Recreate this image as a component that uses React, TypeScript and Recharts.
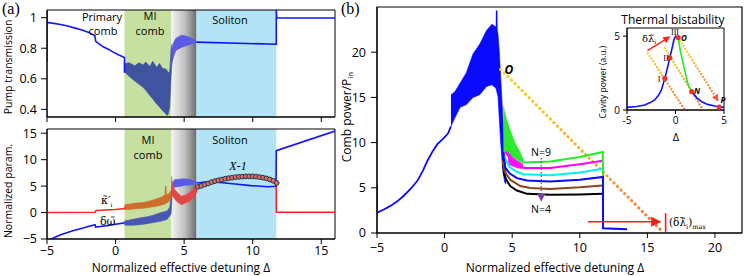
import React from "react";
import {
  ComposedChart,
  Line,
  Area,
  Scatter,
  XAxis,
  YAxis,
  ReferenceArea,
} from "recharts";

const sans = "'Open Sans', 'DejaVu Sans', sans-serif";
const serif = "'Liberation Serif', 'DejaVu Serif', serif";
const mathSerif = "'DejaVu Serif', serif";

// ---- ticks ----
const xTicksA = [-5, 0, 5, 10, 15];
const pumpTicks = [0.4, 0.6, 0.8, 1];
const paramTicks = [-5, 0, 5, 10, 15];
const xTicksB = [-5, 0, 5, 10, 15, 20];
const combTicks = [0, 5, 10, 15, 20];
const insetXTicks = [-5, 0, 5];
const insetYTicks = [0, 5];

// ---- shaded regions (detuning) ----
const miComb = [0.65, 4.07];
const transition = [4.07, 5.9];
const soliton = [5.9, 11.72];

// ---- (a) pump transmission ----
const pumpBefore = [[-5, 0.71], [-5, 1.05], [-5, 0.969], [-4, 0.955], [-3.5, 0.945], [-3, 0.933], [-2.4, 0.917], [-2, 0.905], [-1.5, 0.881], [-1.45, 0.845], [-1.2, 0.828], [-0.9, 0.809], [-0.5, 0.792], [-0.2, 0.776], [0.2, 0.757], [0.65, 0.739], [0.65, 0.64]];
const pumpMI = [[0.65, 0.645, 0.70], [1.0, 0.615, 0.705], [1.4, 0.585, 0.685], [1.7, 0.565, 0.705], [2.0, 0.545, 0.69], [2.2, 0.525, 0.71], [2.5, 0.49, 0.68], [2.7, 0.47, 0.715], [3.0, 0.435, 0.675], [3.2, 0.415, 0.70], [3.45, 0.39, 0.665], [3.65, 0.372, 0.665], [3.75, 0.36, 0.655], [3.85, 0.37, 0.64], [3.95, 0.42, 0.65], [4.0, 0.51, 0.72], [4.05, 0.62, 0.80], [4.12, 0.72, 0.83]];
const pumpTransition = [[4.1, 0.70, 0.80], [4.25, 0.75, 0.84], [4.4, 0.785, 0.865], [4.8, 0.805, 0.885], [5.2, 0.818, 0.878], [5.55, 0.828, 0.865], [5.85, 0.835, 0.848], [5.95, 0.84, 0.842]];
const pumpSoliton = [[5.9, 0.84], [11.72, 0.826], [11.72, 1.05], [11.75, 0.998], [16, 0.998]];

// ---- (a) normalized parameters ----
const kappaBefore = [[-5, 0], [-1.5, 0.05], [-1.42, 0.4], [0, 0.58], [0.65, 0.75], [0.65, 1.0]];
const kappaMI = [[0.65, 0.6, 1.5], [1.0, 0.6, 1.6], [1.5, 0.7, 1.8], [2.0, 0.8, 1.9], [2.5, 1.0, 2.2], [3.0, 1.2, 2.6], [3.3, 1.4, 2.9], [3.6, 1.6, 3.3], [3.9, 2.1, 3.6], [4.05, 2.8, 4.2]];
const kappaSpike = [[3.6, 2.6], [3.65, 5.0], [3.7, 2.8]];
const kappaTransition = [[4.07, 3.0, 6.85], [4.15, 3.2, 5.4], [4.3, 2.6, 4.4], [4.5, 2.0, 3.8], [4.8, 1.5, 3.1], [5.1, 1.8, 3.3], [5.4, 2.1, 3.8], [5.7, 2.9, 4.5], [5.95, 3.9, 5.0]];
const kappaAfter = [[11.72, 5.6], [11.72, 0.05], [16, 0.05]];
const detuneBefore = [[-5, -5.45], [-4.5, -4.75], [-4, -4.2], [-3.5, -3.75], [-3, -3.35], [-2.5, -3.0], [-2, -2.62], [-1.5, -2.28], [-1.45, -2.75], [-1, -2.6], [-0.5, -2.42], [0, -2.2], [0.65, -1.95]];
const detuneMI = [[0.65, -2.4, -1.6], [1.2, -2.4, -1.3], [1.8, -2.3, -1.0], [2.3, -2.1, -0.8], [2.75, -1.9, -0.5], [3.2, -1.7, -0.1], [3.75, -1.3, 0.3], [3.95, -0.6, 1.0], [4.05, -0.2, 3.5], [4.12, 3.0, 5.5]];
const detuneTransition = [[4.1, 4.5, 5.5], [4.3, 4.8, 6.2], [4.6, 4.9, 6.3], [5.0, 5.1, 6.4], [5.4, 5.2, 6.3], [5.7, 5.4, 6.0], [5.95, 5.5, 5.8]];
const detuneSoliton = [[5.95, 5.6], [6.5, 5.75], [7.2, 5.8], [8, 5.6], [8.7, 5.4], [9.9, 5.1], [11.1, 4.87], [11.7, 4.96], [11.72, 11.7], [16, 15.4]];
const x1Delta = [6.0, 6.25, 6.5, 6.75, 7.0, 7.25, 7.5, 7.75, 8.0, 8.25, 8.5, 8.75, 9.0, 9.25, 9.5, 9.75, 10.0, 10.25, 10.5, 10.75, 11.0, 11.25, 11.5, 11.75];
const x1Value = [4.85, 5.05, 5.3, 5.5, 5.75, 5.95, 6.1, 6.25, 6.4, 6.5, 6.6, 6.7, 6.75, 6.8, 6.85, 6.85, 6.85, 6.8, 6.7, 6.6, 6.45, 6.25, 6.0, 5.6];

// ---- (b) comb power ----
const combRise = [[-5, 5.3], [-5, 2.25], [-4.5, 2.6], [-4, 3.0], [-3.5, 3.5], [-3, 4.15], [-2.5, 4.9], [-2, 5.8], [-1.6, 6.9], [-1.3, 7.9], [-0.9, 9.0], [-0.55, 9.8], [-0.1, 10.45], [0.25, 11.0], [0.47, 11.8]];
const combChaos = [[0.47, 11.8, 15.3], [0.75, 12.7, 15.6], [1.15, 13.9, 16.6], [1.6, 14.2, 17.7], [2.1, 15.0, 19.8], [2.6, 15.3, 20.9], [3.1, 16.2, 22.4], [3.5, 16.4, 23.1], [3.8, 16.0, 22.8], [3.95, 15.1, 22.0], [4.05, 12.5, 20.0], [4.15, 10, 17.2], [4.25, 8, 14.5], [4.35, 6.5, 11.5], [4.45, 5.6, 8.5], [4.55, 5.4, 6.5]];
const combSpike = [[3.82, 20], [3.85, 24.6], [3.88, 20]];
const greenNoise = [[4.35, 9, 14], [4.6, 8.8, 12.5], [4.9, 8.5, 11.2], [5.2, 8.3, 10.0], [5.5, 8.0, 9.2], [5.84, 7.8, 8.1]];
const magentaNoise = [[4.7, 7.6, 9.0], [5.0, 7.4, 8.4], [5.4, 7.2, 8.0], [5.8, 7.1, 7.6]];
const soliton4 = [[4.3, 7.5], [4.4, 6.5], [4.6, 5.8], [4.85, 5.2], [5.35, 4.7], [6.1, 4.33], [7.8, 4.22], [10, 4.26], [11.7, 4.33]];
const soliton5 = [[4.3, 8], [4.4, 6.9], [4.85, 5.9], [5.6, 5.2], [6.35, 4.97], [7.8, 4.88], [10, 5.05], [11.7, 5.26]];
const soliton6 = [[4.3, 9], [4.5, 7.2], [4.8, 6.6], [5.35, 6.07], [6.1, 5.8], [7.8, 5.7], [10, 5.9], [11.72, 6.2], [11.72, 0.52], [13.5, 0.42]];
const soliton7 = [[4.4, 8.5], [4.8, 7.3], [5.3, 6.8], [5.84, 6.5], [7.8, 6.4], [10, 6.7], [11.7, 7.1]];
const soliton8 = [[4.5, 9], [5.0, 7.8], [5.5, 7.4], [5.9, 7.2], [7.8, 7.2], [10, 7.6], [11.7, 8.0]];
const soliton9 = [[4.5, 10], [5.2, 8.6], [5.84, 7.8], [7.8, 7.9], [10, 8.4], [11.7, 8.97], [11.72, 6.2]];
const thermalSweep = [[4.16, 18.1], [16.0, 0.33]];
const shiftMax = [[10.6, 1.25], [15.95, 1.25]];
const shiftBar = [[16.35, 0], [16.35, 2.2]];
const solitonStep = [[7.15, 8.3], [7.15, 3.9]];

// ---- (b) inset: thermal bistability ----
const bistLeft = [[-5, 0.18], [-4, 0.24], [-3.19, 0.34], [-2.6, 0.5], [-2.15, 0.68], [-1.75, 1.0], [-1.45, 1.35], [-1.1, 2.14], [-0.85, 2.8], [-0.59, 3.53], [-0.35, 4.2], [-0.17, 4.73], [0, 5.0], [0.28, 4.9]];
const bistJump = [[0.28, 4.9], [0.5, 4.0], [0.73, 3.3], [1.0, 2.55], [1.25, 1.85], [1.45, 1.5], [1.67, 1.24]];
const bistRight = [[1.67, 1.24], [2.2, 0.82], [2.7, 0.56], [3.3, 0.38], [4.05, 0.27], [5, 0.18]];
const bistPoints = [[-1.1, 2.14], [-0.59, 3.53], [0.28, 4.9], [1.67, 1.24], [4.5, 0.2]];
const sweepI = [[-2.85, 3.85], [0.96, 0]];
const sweepII = [[-1.1, 4.2], [2.85, 0]];
const sweepO = [[0.45, 4.7], [4.4, 0.62]];
const shiftArrow = [[-2.9, 4.02], [-0.6, 4.95]];

const pts = (a: number[][]) => a.map(([x, y]) => ({ x, y }));
const band = (a: number[][]) => a.map(([x, lo, hi]) => ({ x, r: [lo, hi] }));

const tickStyle = { fill: "#000", fontSize: 12.5, fontFamily: sans };
const minus = (v: number) => (v < 0 ? `\u2212${Math.abs(v)}` : `${v}`);

const line = (data: number[][], color: string, width = 1.6, extra: any = {}) => (
  <Line
    data={pts(data)}
    dataKey="y"
    type="linear"
    stroke={color}
    strokeWidth={width}
    dot={false}
    activeDot={false}
    isAnimationActive={false}
    {...extra}
  />
);

const area = (data: number[][], color: string) => (
  <Area
    data={band(data)}
    dataKey="r"
    type="linear"
    stroke={color}
    strokeWidth={0.6}
    fill={color}
    fillOpacity={1}
    dot={false}
    activeDot={false}
    isAnimationActive={false}
  />
);

const Backgrounds = ({ grad }: { grad: string }) => (
  <>
    <ReferenceArea x1={miComb[0]} x2={miComb[1]} fill="#c6e0a1" fillOpacity={1} stroke="none" />
    <ReferenceArea x1={transition[0]} x2={transition[1]} fill={`url(#${grad})`} fillOpacity={1} stroke="none" />
    <ReferenceArea x1={soliton[0]} x2={soliton[1]} fill="#b2e4f6" fillOpacity={1} stroke="none" />
  </>
);

const GrayGrad = ({ id }: { id: string }) => (
  <linearGradient id={id} x1="0" y1="0" x2="1" y2="0">
    <stop offset="0" stopColor="#f4f4f4" />
    <stop offset="0.55" stopColor="#bdbdbd" />
    <stop offset="1" stopColor="#6c6c6c" />
  </linearGradient>
);

const PumpChart = () => (
  <ComposedChart width={340} height={124} margin={{ top: 10, right: 5, bottom: 0, left: 0 }}>
    <defs>
      <GrayGrad id="grayA1" />
    </defs>
    <XAxis dataKey="x" type="number" domain={[-5, 16]} ticks={xTicksA} tickFormatter={() => ""} height={7} tickSize={5} stroke="#000" allowDataOverflow interval={0} />
    <YAxis type="number" domain={[0.35, 1.05]} ticks={pumpTicks} width={47} tickSize={6} tickMargin={4} stroke="#000" tick={tickStyle} allowDataOverflow interval={0} tickFormatter={(v: number) => (v === 1 ? "1" : v.toFixed(1))} />
    {Backgrounds({ grad: "grayA1" })}
    {area(pumpMI, "#3f539f")}
    {area(pumpTransition, "#5a5ae4")}
    {line(pumpBefore, "#1414ff")}
    {line(pumpSoliton, "#1414ff")}
    <ReferenceArea x1={-5} x2={16} y1={0.35} y2={1.05} fill="none" stroke="#000" strokeWidth={1} />
  </ComposedChart>
);

const ParamChart = () => (
  <ComposedChart width={340} height={152} margin={{ top: 5, right: 5, bottom: 17, left: 0 }}>
    <defs>
      <GrayGrad id="grayA2" />
    </defs>
    <XAxis dataKey="x" type="number" domain={[-5, 16]} ticks={xTicksA} height={20} tickSize={5} tickMargin={2} stroke="#000" tick={tickStyle} tickFormatter={minus} allowDataOverflow interval={0} />
    <YAxis type="number" domain={[-5, 15.8]} ticks={paramTicks} width={47} tickSize={6} tickMargin={4} stroke="#000" tick={tickStyle} tickFormatter={minus} allowDataOverflow interval={0} />
    {Backgrounds({ grad: "grayA2" })}
    {area(detuneMI, "#4757b2")}
    {area(kappaMI, "#cf6d2c")}
    {line(kappaSpike, "#cf6d2c", 1.2)}
    {area(detuneTransition, "#5b5be6")}
    {area(kappaTransition, "#e04848")}
    {line(kappaBefore, "#ff2020")}
    {line(kappaAfter, "#ff2020")}
    {line(detuneBefore, "#1414ff")}
    {line(detuneSoliton, "#1414ff")}
    {line(x1Delta.map((d, i) => [d, x1Value[i]]), "#ff2020", 1.2)}
    <Scatter
      data={x1Delta.map((d, i) => ({ x: d, y: x1Value[i] }))}
      dataKey="y"
      isAnimationActive={false}
      shape={(p: any) => <circle cx={p.cx} cy={p.cy} r={2.4} fill="#e46a6a" stroke="#1d3b4a" strokeWidth={1} />}
    />
    <ReferenceArea x1={-5} x2={16} y1={-5} y2={15.8} fill="none" stroke="#000" strokeWidth={1} />
  </ComposedChart>
);

const CombChart = () => (
  <ComposedChart width={408} height={276} margin={{ top: 7, right: 6, bottom: 21, left: 0 }}>
    <defs>
      <linearGradient id="dotGradB" x1="0" y1="0" x2="0" y2="1">
        <stop offset="0" stopColor="#ffd21c" />
        <stop offset="0.5" stopColor="#f9b030" />
        <stop offset="1" stopColor="#f07a45" />
      </linearGradient>
      <marker id="arrRedB" viewBox="0 0 10 10" refX="9" refY="5" markerWidth="11" markerHeight="10" markerUnits="userSpaceOnUse" orient="auto">
        <path d="M0,0 L10,5 L0,10 z" fill="#ff1a1a" />
      </marker>
      <marker id="arrPurpleB" viewBox="0 0 10 10" refX="5" refY="5" markerWidth="8" markerHeight="8" markerUnits="userSpaceOnUse" orient="auto">
        <path d="M0,0 L10,5 L0,10 z" fill="#7b3fa0" />
      </marker>
    </defs>
    <XAxis dataKey="x" type="number" domain={[-5, 22]} ticks={xTicksB} height={22} tickSize={5} tickMargin={5} stroke="#000" tick={tickStyle} tickFormatter={minus} allowDataOverflow interval={0} />
    <YAxis type="number" domain={[0, 25]} ticks={combTicks} width={37} tickSize={6} tickMargin={5} stroke="#000" tick={tickStyle} allowDataOverflow interval={0} />
    {line(thermalSweep, "url(#dotGradB)", 3.2, { strokeDasharray: "0.01 5", strokeLinecap: "round" })}
    {line(combRise, "#0a0aff", 1.8)}
    {area(combChaos, "#0a0aff")}
    {line(combSpike, "#0a0aff", 1.5)}
    {area(greenNoise, "#2fea2f")}
    {area(magentaNoise, "#f01ef0")}
    {line(soliton4, "#000000", 2)}
    {line(soliton5, "#8e4416", 2)}
    {line(soliton7, "#00f0f0", 2)}
    {line(soliton8, "#ff00ff", 2)}
    {line(soliton9, "#22ee22", 2)}
    {line(soliton6, "#0a0aff", 2)}
    {line(solitonStep, "#7b3fa0", 1.3, { strokeDasharray: "1.5 2", markerEnd: "url(#arrPurpleB)" })}
    {line(shiftMax, "#ff1a1a", 1.6, { markerEnd: "url(#arrRedB)" })}
    {line(shiftBar, "#ff1a1a", 1.6)}
    <ReferenceArea x1={-5} x2={22} y1={0} y2={25} fill="none" stroke="#000" strokeWidth={1.2} />
  </ComposedChart>
);

const InsetChart = () => (
  <ComposedChart width={133} height={130} margin={{ top: 8, right: 6, bottom: 22, left: 0 }}>
    <defs>
      <linearGradient id="dotGradI" x1="0" y1="0" x2="0" y2="1">
        <stop offset="0" stopColor="#ffd21c" />
        <stop offset="1" stopColor="#f07a45" />
      </linearGradient>
      <marker id="arrRedI" viewBox="0 0 10 10" refX="9" refY="5" markerWidth="8" markerHeight="7" markerUnits="userSpaceOnUse" orient="auto">
        <path d="M0,0 L10,5 L0,10 z" fill="#ff2020" />
      </marker>
      <marker id="arrOrangeI" viewBox="0 0 10 10" refX="9" refY="5" markerWidth="7" markerHeight="7" markerUnits="userSpaceOnUse" orient="auto">
        <path d="M0,0 L10,5 L0,10 z" fill="#f0603a" />
      </marker>
    </defs>
    <XAxis dataKey="x" type="number" domain={[-5, 5]} ticks={insetXTicks} height={18} tickSize={4} tickMargin={3} stroke="#000" tick={{ ...tickStyle, fontSize: 10 }} allowDataOverflow interval={0} />
    <YAxis type="number" domain={[0, 5.55]} ticks={insetYTicks} width={30} tickSize={4} tickMargin={3} stroke="#000" tick={{ ...tickStyle, fontSize: 10 }} allowDataOverflow interval={0} />
    {line(sweepI, "url(#dotGradI)", 2.3, { strokeDasharray: "0.01 3.3", strokeLinecap: "round" })}
    {line(sweepII, "url(#dotGradI)", 2.3, { strokeDasharray: "0.01 3.3", strokeLinecap: "round" })}
    {line(sweepO, "url(#dotGradI)", 2.3, { strokeDasharray: "0.01 3.3", strokeLinecap: "round", markerEnd: "url(#arrOrangeI)" })}
    {line(bistLeft, "#1010ff", 1.6)}
    {line(bistRight, "#1010ff", 1.6)}
    {line(bistJump, "#22ee22", 1.6)}
    {line(shiftArrow, "#ff2020", 1.5, { markerEnd: "url(#arrRedI)" })}
    <Scatter
      data={pts(bistPoints)}
      dataKey="y"
      isAnimationActive={false}
      shape={(p: any) => <circle cx={p.cx} cy={p.cy} r={2.6} fill="#f03030" />}
    />
    <ReferenceArea x1={-5} x2={5} y1={0} y2={5.55} fill="none" stroke="#000" strokeWidth={1} />
  </ComposedChart>
);

const Labels = () => (
  <svg width={748} height={276} style={{ position: "absolute", left: 0, top: 0, pointerEvents: "none" }} fontFamily={sans} fill="#000">
    <text x={2} y={14} fontFamily={serif} fontSize={16}>(a)</text>
    <text x={341} y={14} fontFamily={serif} fontSize={16}>(b)</text>

    <text transform="translate(8,67) rotate(-90)" textAnchor="middle" dominantBaseline="central" fontSize={10.5}>Pump transmission</text>
    <text transform="translate(8,191) rotate(-90)" textAnchor="middle" dominantBaseline="central" fontSize={10.5}>Normalized param.</text>
    <text x={181} y={267} textAnchor="middle" dominantBaseline="central" fontSize={12}>Normalized effective detuning Δ</text>
    <text x={555} y={267} textAnchor="middle" dominantBaseline="central" fontSize={12}>Normalized effective detuning Δ</text>
    <text transform="translate(346,117) rotate(-90)" textAnchor="middle" dominantBaseline="central" fontSize={12}>
      Comb power/P<tspan fontSize={8} dy={3}>in</tspan>
    </text>

    <g fontSize={11} textAnchor="middle" dominantBaseline="central">
      <text x={102} y={16}>Primary</text>
      <text x={103} y={30}>comb</text>
      <text x={150} y={15}>MI</text>
      <text x={150} y={30}>comb</text>
      <text x={230} y={19}>Soliton</text>
      <text x={148} y={139}>MI</text>
      <text x={148} y={154}>comb</text>
      <text x={230} y={139}>Soliton</text>
    </g>
    <text x={238} y={166} textAnchor="middle" dominantBaseline="central" fontFamily={serif} fontStyle="italic" fontSize={12}>X-1</text>

    <text x={101} y={204} fontFamily={mathSerif} fontSize={11}>
      {"\u03BA\u0303\u2032"}<tspan fontSize={6} dy={3}>i</tspan>
    </text>
    <text x={100} y={225} fontFamily={mathSerif} fontSize={11}>{"\u03B4\u03C9\u0303"}</text>

    <text x={509} y={69} textAnchor="middle" dominantBaseline="central" fontStyle="italic" fontWeight="bold" fontSize={12}>O</text>
    <text x={541} y={152} textAnchor="middle" dominantBaseline="central" fontSize={10.5}>N=9</text>
    <text x={541} y={209} textAnchor="middle" dominantBaseline="central" fontSize={10.5}>N=4</text>
    <text x={669} y={226} fontFamily={mathSerif} fontSize={10.5}>
      {"(\u03B4\u03BB\u0303"}<tspan fontSize={6.5} dy={3}>i</tspan><tspan dy={-3}>)</tspan><tspan fontSize={6.5} dy={3}>max</tspan>
    </text>

    <text x={673} y={19} textAnchor="middle" dominantBaseline="central" fontSize={12}>Thermal bistability</text>
    <text transform="translate(602,82) rotate(-90)" textAnchor="middle" dominantBaseline="central" fontSize={8.5}>Cavity power (a.u.)</text>
    <text x={676} y={136} textAnchor="middle" dominantBaseline="central" fontSize={11}>Δ</text>
    <text x={642} y={42} fontFamily={mathSerif} fontSize={10}>
      {"\u03B4\u03BB\u0303"}<tspan fontSize={6} dy={2}>i</tspan>
    </text>
    <g fontFamily={serif} fontSize={8} textAnchor="middle" dominantBaseline="central">
      <text x={675} y={32}>III</text>
      <text x={666} y={58}>II</text>
      <text x={659} y={79}>I</text>
    </g>
    <g fontSize={8} fontStyle="italic" fontWeight="bold" textAnchor="middle" dominantBaseline="central">
      <text x={684} y={37}>O</text>
      <text x={697} y={90}>N</text>
      <text x={723} y={99}>P</text>
    </g>
  </svg>
);

export default function App() {
  return (
    <div style={{ position: "absolute", left: 0, top: 0, width: 748, height: 276, background: "#fff", fontFamily: sans }}>
      <div style={{ position: "absolute", left: 0, top: 0 }}>
        <PumpChart />
      </div>
      <div style={{ position: "absolute", left: 0, top: 124 }}>
        <ParamChart />
      </div>
      <div style={{ position: "absolute", left: 340, top: 0 }}>
        <CombChart />
      </div>
      <div style={{ position: "absolute", left: 597, top: 20 }}>
        <InsetChart />
      </div>
      <Labels />
    </div>
  );
}
